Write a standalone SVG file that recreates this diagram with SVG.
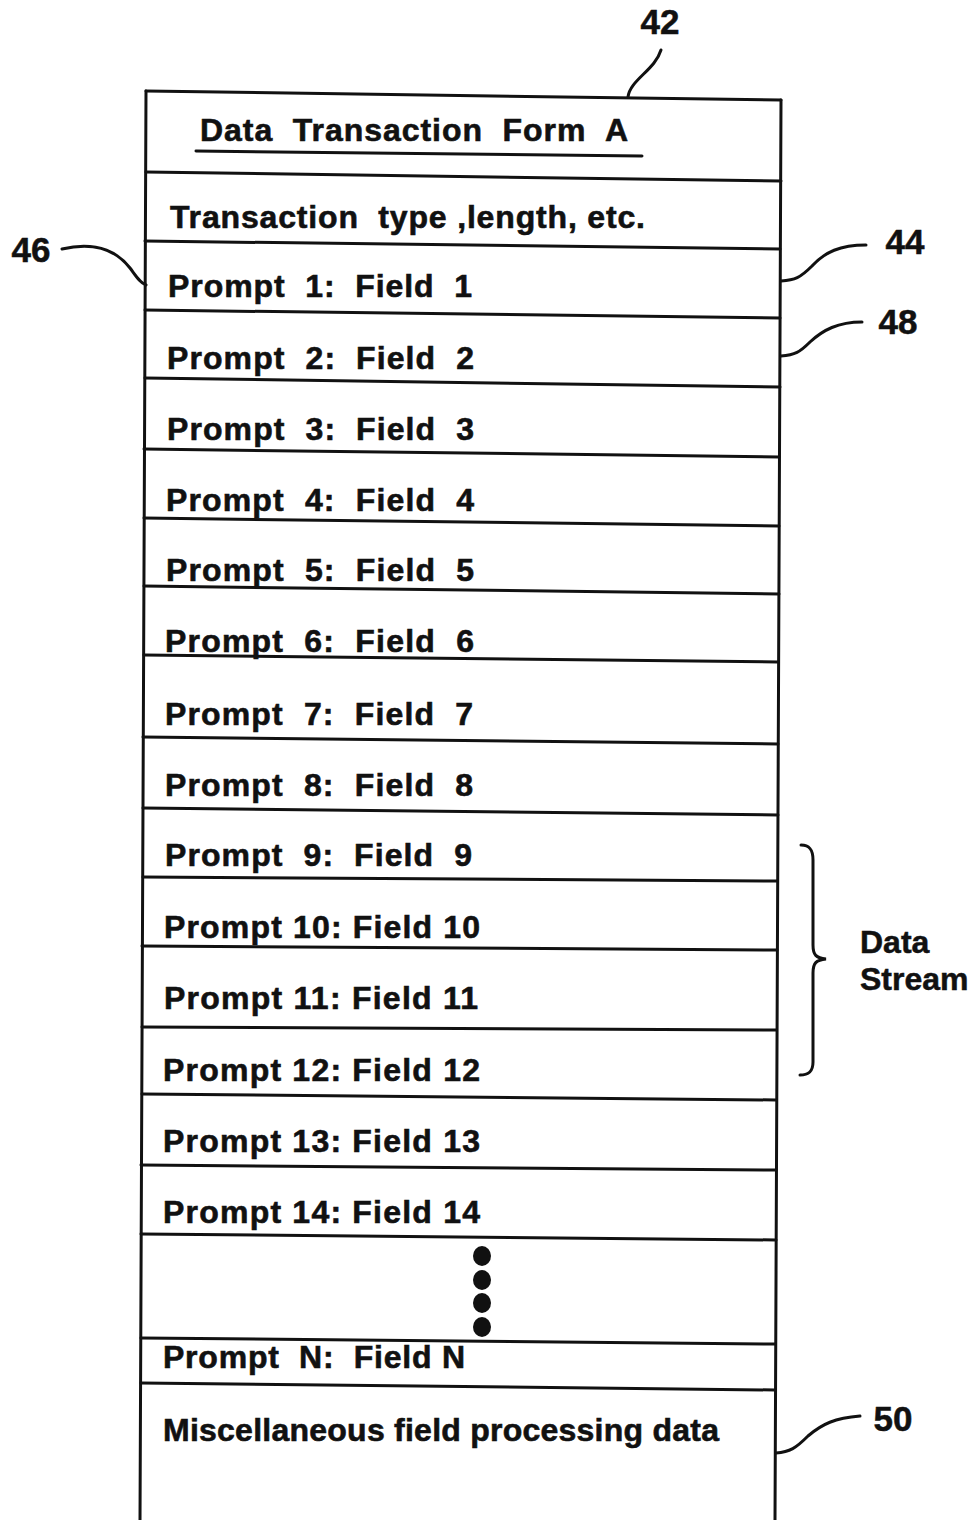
<svg xmlns="http://www.w3.org/2000/svg" width="976" height="1520" viewBox="0 0 976 1520">
<style>
.ln{stroke:#111;stroke-width:3;fill:none;stroke-linecap:round}
.t{font-family:"Liberation Sans",Arial,sans-serif;font-weight:bold;font-size:32px;fill:#111;stroke:#111;stroke-width:0.6;white-space:pre}
.lbl{font-family:"Liberation Sans",Arial,sans-serif;font-weight:bold;font-size:35px;fill:#111;stroke:#111;stroke-width:0.5}
.ds{font-family:"Liberation Sans",Arial,sans-serif;font-weight:bold;font-size:32px;fill:#111;stroke:#111;stroke-width:0.5}
.dot{fill:#111}
</style>
<rect width="976" height="1520" fill="#fff"/>
<g id="form">
<path class="ln" d="M146,91 L781,100"/>
<path class="ln" d="M146,91 L140,1520"/>
<path class="ln" d="M781,100 L775,1520"/>
<path class="ln" d="M146,172 L781,181"/>
<path class="ln" d="M145,241 L780,249"/>
<path class="ln" d="M145,310 L780,318"/>
<path class="ln" d="M145,378 L780,387"/>
<path class="ln" d="M144,449 L779,457"/>
<path class="ln" d="M144,518 L779,526"/>
<path class="ln" d="M144,586 L779,594"/>
<path class="ln" d="M144,655 L778,662"/>
<path class="ln" d="M143,737 L778,744"/>
<path class="ln" d="M143,808 L778,815"/>
<path class="ln" d="M143,877 L777,881"/>
<path class="ln" d="M142,946 L777,950"/>
<path class="ln" d="M142,1027 L776,1030"/>
<path class="ln" d="M142,1094 L776,1100"/>
<path class="ln" d="M141,1165 L776,1170"/>
<path class="ln" d="M141,1234 L776,1240"/>
<path class="ln" d="M141,1338 L775,1344"/>
<path class="ln" d="M141,1383 L775,1390"/>
</g>
<g id="title">
<text class="t" x="200" y="141" textLength="428" lengthAdjust="spacing" xml:space="preserve">Data  Transaction  Form  A</text>
<path class="ln" d="M196,151 L642,156" stroke-width="3.5"/>
</g>
<g id="header"><text class="t" x="170" y="228" textLength="475" lengthAdjust="spacing" xml:space="preserve">Transaction  type ,length, etc.</text></g>
<g id="row1"><text class="t" x="168" y="297" textLength="304" lengthAdjust="spacing" xml:space="preserve">Prompt  1:  Field  1</text></g>
<g id="row2"><text class="t" x="167" y="369" textLength="307" lengthAdjust="spacing" xml:space="preserve">Prompt  2:  Field  2</text></g>
<g id="row3"><text class="t" x="167" y="440" textLength="307" lengthAdjust="spacing" xml:space="preserve">Prompt  3:  Field  3</text></g>
<g id="row4"><text class="t" x="166" y="511" textLength="308" lengthAdjust="spacing" xml:space="preserve">Prompt  4:  Field  4</text></g>
<g id="row5"><text class="t" x="166" y="581" textLength="308" lengthAdjust="spacing" xml:space="preserve">Prompt  5:  Field  5</text></g>
<g id="row6"><text class="t" x="165" y="652" textLength="309" lengthAdjust="spacing" xml:space="preserve">Prompt  6:  Field  6</text></g>
<g id="row7"><text class="t" x="165" y="725" textLength="308" lengthAdjust="spacing" xml:space="preserve">Prompt  7:  Field  7</text></g>
<g id="row8"><text class="t" x="165" y="796" textLength="308" lengthAdjust="spacing" xml:space="preserve">Prompt  8:  Field  8</text></g>
<g id="row9"><text class="t" x="165" y="866" textLength="307" lengthAdjust="spacing" xml:space="preserve">Prompt  9:  Field  9</text></g>
<g id="row10"><text class="t" x="164" y="938" textLength="316" lengthAdjust="spacing">Prompt 10: Field 10</text></g>
<g id="row11"><text class="t" x="164" y="1009" textLength="314" lengthAdjust="spacing">Prompt 11: Field 11</text></g>
<g id="row12"><text class="t" x="163" y="1081" textLength="317" lengthAdjust="spacing">Prompt 12: Field 12</text></g>
<g id="row13"><text class="t" x="163" y="1152" textLength="317" lengthAdjust="spacing">Prompt 13: Field 13</text></g>
<g id="row14"><text class="t" x="163" y="1223" textLength="317" lengthAdjust="spacing">Prompt 14: Field 14</text></g>
<g id="ellipsis">
<ellipse class="dot" cx="482" cy="1256" rx="9" ry="10"/>
<ellipse class="dot" cx="482" cy="1280" rx="9" ry="10"/>
<ellipse class="dot" cx="482" cy="1303" rx="9" ry="10"/>
<ellipse class="dot" cx="482" cy="1327" rx="9" ry="10"/>
</g>
<g id="rowN"><text class="t" x="163" y="1368" textLength="302" lengthAdjust="spacing" xml:space="preserve">Prompt  N:  Field N</text></g>
<g id="misc"><text class="t" x="163" y="1441" textLength="556" lengthAdjust="spacing">Miscellaneous field processing data</text></g>
<g id="labels">
<text class="lbl" x="660" y="34" text-anchor="middle">42</text>
<text class="lbl" x="31" y="262" text-anchor="middle">46</text>
<text class="lbl" x="905" y="254" text-anchor="middle">44</text>
<text class="lbl" x="898" y="334" text-anchor="middle">48</text>
<text class="lbl" x="893" y="1431" text-anchor="middle">50</text>
<text class="ds" x="860" y="953">Data</text>
<text class="ds" x="860" y="990">Stream</text>
</g>
<g id="connectors">
<path class="ln" d="M661,50 C655,70 630,80 628,97"/>
<path class="ln" d="M62,249 C100,240 120,255 130,268 C136,276 140,283 146,285"/>
<path class="ln" d="M866,245 C840,245 825,252 812,266 C800,278 795,280 781,281"/>
<path class="ln" d="M862,322 C838,322 823,330 810,342 C800,352 795,355 781,356"/>
<path class="ln" d="M860,1416 C835,1418 822,1424 808,1436 C796,1448 790,1452 776,1453"/>
<path class="ln" d="M801,845 C810,845 813,850 813,860 L813,945 C813,955 816,958 826,959 C816,960 813,963 813,973 L813,1062 C813,1072 808,1075 800,1075"/>
</g>
</svg>
